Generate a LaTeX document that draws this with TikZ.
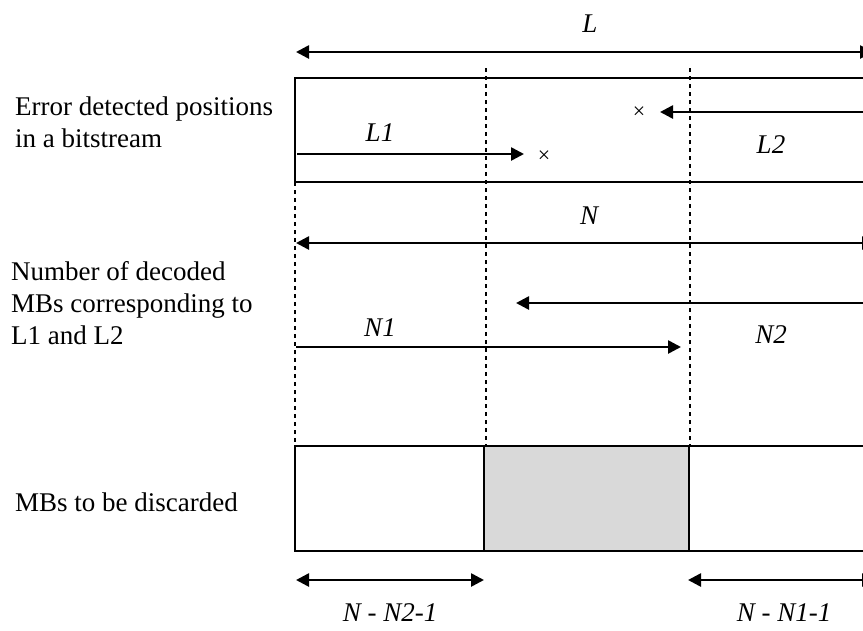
\documentclass[tikz,border=0pt]{standalone}
\usepackage{fontspec}
\setmainfont{Liberation Serif}
\usetikzlibrary{arrows.meta}
\definecolor{fillgray}{HTML}{D9D9D9}
\begin{document}
\begin{tikzpicture}[x=1pt,y=-1pt,
  lbl/.style={font=\fontsize{27}{32}\selectfont\itshape, inner sep=0pt},
  side/.style={font=\fontsize{27}{32}\selectfont, align=left, anchor=west, inner sep=0pt},
  arr/.style={line width=2.6pt, -{Triangle[length=13pt,width=13pt]}},
  darr/.style={line width=2.6pt, {Triangle[length=13pt,width=13pt]}-{Triangle[length=13pt,width=13pt]}},
  box/.style={draw, line width=2pt},
  guide/.style={line width=1.8pt, dash pattern=on 3.5pt off 4.5pt},
  cross/.style={font=\fontsize{22}{26}\selectfont, inner sep=0pt}]
\useasboundingbox (0,0) rectangle (863,630);
\clip (0,0) rectangle (863,630);

% guide lines
\coordinate (g1a) at (486,68);  \coordinate (g1b) at (486,446);
\coordinate (g2a) at (690,68);  \coordinate (g2b) at (690,446);
\coordinate (g0a) at (295,182); \coordinate (g0b) at (295,446);
\draw[guide] (g1a) -- (g1b);
\draw[guide] (g2a) -- (g2b);
\draw[guide] (g0a) -- (g0b);

% L
\coordinate (Ll) at (296,52); \coordinate (Lr) at (873,52);
\draw[darr] (Ll) -- (Lr);
\node[lbl] (Llab) at (590,24) {L};

% top box
\coordinate (tb1) at (295,78); \coordinate (tb2) at (890,182);
\draw[box] (tb1) rectangle (tb2);

% L1, L2
\coordinate (L1s) at (297,154); \coordinate (L1e) at (524,154);
\draw[arr] (L1s) -- (L1e);
\coordinate (L2s) at (890,112); \coordinate (L2e) at (660,112);
\draw[arr] (L2s) -- (L2e);
\node[cross] (x1) at (544,157) {×};
\node[cross] (x2) at (639,113) {×};
\node[lbl] (L1lab) at (380,133) {L1};
\node[lbl] (L2lab) at (771,145) {L2};

% N
\coordinate (Nl) at (296,243); \coordinate (Nr) at (875,243);
\draw[darr] (Nl) -- (Nr);
\node[lbl] (Nlab) at (589,216) {N};
\coordinate (N2s) at (890,303); \coordinate (N2e) at (516,303);
\draw[arr] (N2s) -- (N2e);
\coordinate (N1s) at (296,347); \coordinate (N1e) at (681,347);
\draw[arr] (N1s) -- (N1e);
\node[lbl] (N1lab) at (380,328) {N1};
\node[lbl] (N2lab) at (771,335) {N2};

% bottom box
\coordinate (b1) at (295,446); \coordinate (b2) at (484,551);
\coordinate (b3) at (689,446); \coordinate (b4) at (890,551);
\coordinate (b5) at (484,446); \coordinate (b6) at (689,551);
\draw[box] (b1) rectangle (b2);
\draw[box, fill=fillgray] (b5) rectangle (b6);
\draw[box] (b3) rectangle (b4);

% bottom arrows
\coordinate (d1) at (296,580); \coordinate (d2) at (484,580);
\draw[darr] (d1) -- (d2);
\coordinate (d3) at (688,580); \coordinate (d4) at (875,580);
\draw[darr] (d3) -- (d4);
\node[lbl] (dl1) at (390,613) {N - N2-1};
\node[lbl] (dl2) at (784,613) {N - N1-1};

% side texts
\node[side] (t1) at (15,122) {Error detected positions\\in a bitstream};
\node[side] (t2) at (11,303) {Number of decoded\\MBs corresponding to\\L1 and L2};
\node[side] (t3) at (15,502) {MBs to be discarded};
\end{tikzpicture}
\end{document}
